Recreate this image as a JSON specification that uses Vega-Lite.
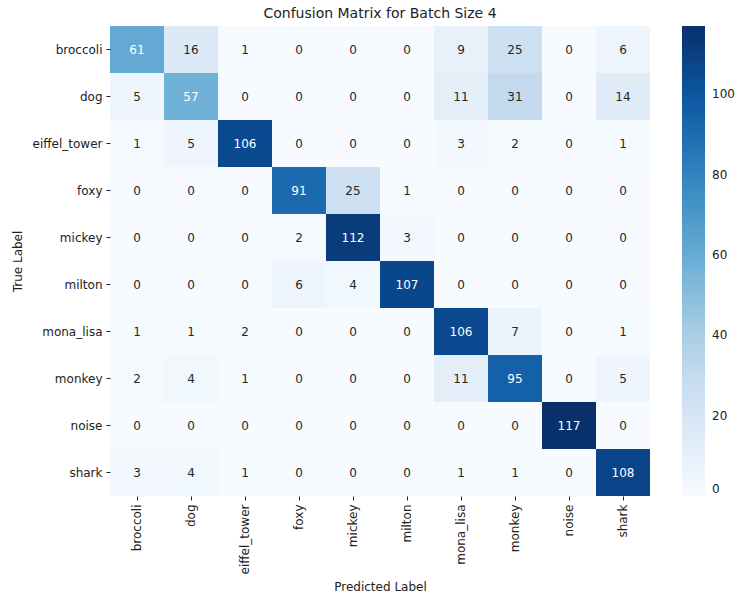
{
  "$schema": "https://vega.github.io/schema/vega-lite/v6.json",
  "width": 540,
  "height": 470,
  "autosize": {"type": "none"},
  "padding": {"left": 110, "top": 26, "right": 88, "bottom": 98},
  "background": "white",
  "config": {
    "font": "DejaVu Sans",
    "view": {"stroke": null},
    "axis": {"labelFont": "DejaVu Sans", "titleFont": "DejaVu Sans", "labelColor": "#222", "titleColor": "#222", "tickColor": "#222", "labelFontSize": 12, "titleFontSize": 12, "titleFontWeight": "normal", "domain": false, "tickSize": 4, "labelPadding": 4}
  },
  "title": {"text": "Confusion Matrix for Batch Size 4", "fontSize": 14, "fontWeight": "normal", "font": "DejaVu Sans", "color": "#222", "offset": 5},
  "data": {"values": [
    {"t":"broccoli","p":"broccoli","v":61},{"t":"broccoli","p":"dog","v":16},{"t":"broccoli","p":"eiffel_tower","v":1},{"t":"broccoli","p":"foxy","v":0},{"t":"broccoli","p":"mickey","v":0},{"t":"broccoli","p":"milton","v":0},{"t":"broccoli","p":"mona_lisa","v":9},{"t":"broccoli","p":"monkey","v":25},{"t":"broccoli","p":"noise","v":0},{"t":"broccoli","p":"shark","v":6},
    {"t":"dog","p":"broccoli","v":5},{"t":"dog","p":"dog","v":57},{"t":"dog","p":"eiffel_tower","v":0},{"t":"dog","p":"foxy","v":0},{"t":"dog","p":"mickey","v":0},{"t":"dog","p":"milton","v":0},{"t":"dog","p":"mona_lisa","v":11},{"t":"dog","p":"monkey","v":31},{"t":"dog","p":"noise","v":0},{"t":"dog","p":"shark","v":14},
    {"t":"eiffel_tower","p":"broccoli","v":1},{"t":"eiffel_tower","p":"dog","v":5},{"t":"eiffel_tower","p":"eiffel_tower","v":106},{"t":"eiffel_tower","p":"foxy","v":0},{"t":"eiffel_tower","p":"mickey","v":0},{"t":"eiffel_tower","p":"milton","v":0},{"t":"eiffel_tower","p":"mona_lisa","v":3},{"t":"eiffel_tower","p":"monkey","v":2},{"t":"eiffel_tower","p":"noise","v":0},{"t":"eiffel_tower","p":"shark","v":1},
    {"t":"foxy","p":"broccoli","v":0},{"t":"foxy","p":"dog","v":0},{"t":"foxy","p":"eiffel_tower","v":0},{"t":"foxy","p":"foxy","v":91},{"t":"foxy","p":"mickey","v":25},{"t":"foxy","p":"milton","v":1},{"t":"foxy","p":"mona_lisa","v":0},{"t":"foxy","p":"monkey","v":0},{"t":"foxy","p":"noise","v":0},{"t":"foxy","p":"shark","v":0},
    {"t":"mickey","p":"broccoli","v":0},{"t":"mickey","p":"dog","v":0},{"t":"mickey","p":"eiffel_tower","v":0},{"t":"mickey","p":"foxy","v":2},{"t":"mickey","p":"mickey","v":112},{"t":"mickey","p":"milton","v":3},{"t":"mickey","p":"mona_lisa","v":0},{"t":"mickey","p":"monkey","v":0},{"t":"mickey","p":"noise","v":0},{"t":"mickey","p":"shark","v":0},
    {"t":"milton","p":"broccoli","v":0},{"t":"milton","p":"dog","v":0},{"t":"milton","p":"eiffel_tower","v":0},{"t":"milton","p":"foxy","v":6},{"t":"milton","p":"mickey","v":4},{"t":"milton","p":"milton","v":107},{"t":"milton","p":"mona_lisa","v":0},{"t":"milton","p":"monkey","v":0},{"t":"milton","p":"noise","v":0},{"t":"milton","p":"shark","v":0},
    {"t":"mona_lisa","p":"broccoli","v":1},{"t":"mona_lisa","p":"dog","v":1},{"t":"mona_lisa","p":"eiffel_tower","v":2},{"t":"mona_lisa","p":"foxy","v":0},{"t":"mona_lisa","p":"mickey","v":0},{"t":"mona_lisa","p":"milton","v":0},{"t":"mona_lisa","p":"mona_lisa","v":106},{"t":"mona_lisa","p":"monkey","v":7},{"t":"mona_lisa","p":"noise","v":0},{"t":"mona_lisa","p":"shark","v":1},
    {"t":"monkey","p":"broccoli","v":2},{"t":"monkey","p":"dog","v":4},{"t":"monkey","p":"eiffel_tower","v":1},{"t":"monkey","p":"foxy","v":0},{"t":"monkey","p":"mickey","v":0},{"t":"monkey","p":"milton","v":0},{"t":"monkey","p":"mona_lisa","v":11},{"t":"monkey","p":"monkey","v":95},{"t":"monkey","p":"noise","v":0},{"t":"monkey","p":"shark","v":5},
    {"t":"noise","p":"broccoli","v":0},{"t":"noise","p":"dog","v":0},{"t":"noise","p":"eiffel_tower","v":0},{"t":"noise","p":"foxy","v":0},{"t":"noise","p":"mickey","v":0},{"t":"noise","p":"milton","v":0},{"t":"noise","p":"mona_lisa","v":0},{"t":"noise","p":"monkey","v":0},{"t":"noise","p":"noise","v":117},{"t":"noise","p":"shark","v":0},
    {"t":"shark","p":"broccoli","v":3},{"t":"shark","p":"dog","v":4},{"t":"shark","p":"eiffel_tower","v":1},{"t":"shark","p":"foxy","v":0},{"t":"shark","p":"mickey","v":0},{"t":"shark","p":"milton","v":0},{"t":"shark","p":"mona_lisa","v":1},{"t":"shark","p":"monkey","v":1},{"t":"shark","p":"noise","v":0},{"t":"shark","p":"shark","v":108}
  ]},
  "encoding": {
    "x": {"field": "p", "type": "nominal", "sort": null, "title": "Predicted Label", "scale": {"paddingInner": 0, "paddingOuter": 0}, "axis": {"labelAngle": -90, "titlePadding": 8}},
    "y": {"field": "t", "type": "nominal", "sort": null, "title": "True Label", "scale": {"paddingInner": 0, "paddingOuter": 0}, "axis": {"titlePadding": 8}}
  },
  "layer": [
    {
      "mark": {"type": "rect", "strokeWidth": 0},
      "encoding": {
        "color": {
          "field": "v", "type": "quantitative",
          "scale": {"domain": [0, 14.625, 29.25, 43.875, 58.5, 73.125, 87.75, 102.375, 117], "range": ["#f7fbff", "#deebf7", "#c6dbef", "#9ecae1", "#6baed6", "#4292c6", "#2171b5", "#08519c", "#08306b"]},
          "legend": {"title": null, "direction": "vertical", "orient": "right", "offset": 32, "gradientLength": 470, "gradientThickness": 23, "values": [0, 20, 40, 60, 80, 100], "labelFontSize": 12, "labelColor": "#222", "labelFont": "DejaVu Sans", "labelOffset": 7, "gradientStrokeWidth": 0}
        }
      }
    },
    {
      "mark": {"type": "text", "fontSize": 12, "font": "DejaVu Sans"},
      "encoding": {
        "text": {"field": "v", "type": "quantitative"},
        "color": {"condition": {"test": "datum.v > 50", "value": "white"}, "value": "#262626"}
      }
    }
  ]
}
